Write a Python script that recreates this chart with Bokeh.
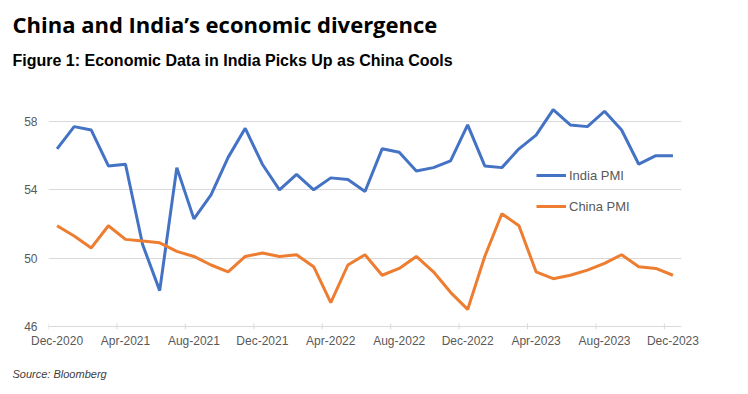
from bokeh.plotting import figure
from bokeh.models import (LinearAxis, FixedTicker, Range1d, Title, Legend, LegendItem)
from bokeh.embed import file_html
from bokeh.resources import INLINE

months = ["Dec-2020", "Jan-2021", "Feb-2021", "Mar-2021", "Apr-2021", "May-2021", "Jun-2021",
          "Jul-2021", "Aug-2021", "Sep-2021", "Oct-2021", "Nov-2021", "Dec-2021",
          "Jan-2022", "Feb-2022", "Mar-2022", "Apr-2022", "May-2022", "Jun-2022",
          "Jul-2022", "Aug-2022", "Sep-2022", "Oct-2022", "Nov-2022", "Dec-2022",
          "Jan-2023", "Feb-2023", "Mar-2023", "Apr-2023", "May-2023", "Jun-2023",
          "Jul-2023", "Aug-2023", "Sep-2023", "Oct-2023", "Nov-2023", "Dec-2023"]
india_pmi = [56.4, 57.7, 57.5, 55.4, 55.5, 50.8, 48.1, 55.3, 52.3, 53.7, 55.9, 57.6, 55.5,
             54.0, 54.9, 54.0, 54.7, 54.6, 53.9, 56.4, 56.2, 55.1, 55.3, 55.7, 57.8,
             55.4, 55.3, 56.4, 57.2, 58.7, 57.8, 57.7, 58.6, 57.5, 55.5, 56.0, 56.0]
china_pmi = [51.9, 51.3, 50.6, 51.9, 51.1, 51.0, 50.9, 50.4, 50.1, 49.6, 49.2, 50.1, 50.3,
             50.1, 50.2, 49.5, 47.4, 49.6, 50.2, 49.0, 49.4, 50.1, 49.2, 48.0, 47.0,
             50.1, 52.6, 51.9, 49.2, 48.8, 49.0, 49.3, 49.7, 50.2, 49.5, 49.4, 49.0]
y_ticks = [46, 50, 54, 58]
label_step = 4

idx = list(range(len(months)))
PPU = 17.083          # pixels per PMI point
TICK = 3 / PPU        # half tick length in data units
y_min = y_ticks[0]

p = figure(width=740, height=390, output_backend="svg", toolbar_location=None,
           x_axis_location=None, y_axis_location=None,
           x_range=Range1d(-0.5, len(months) - 0.5),
           y_range=Range1d(y_min - TICK, y_min + 230 / PPU),
           min_border_left=48, min_border_right=59, min_border_top=96, min_border_bottom=61)
p.outline_line_color = None
p.background_fill_color = "white"
p.border_fill_color = "white"

# y axis
yax = LinearAxis(ticker=FixedTicker(ticks=y_ticks))
yax.axis_line_color = None
yax.major_tick_line_color = None
yax.major_tick_in = 0
yax.major_tick_out = 0
yax.minor_tick_line_color = None
yax.major_label_text_font = "Liberation Sans"
yax.major_label_text_font_size = "12px"
yax.major_label_text_color = "#595959"
yax.major_label_standoff = 11
p.add_layout(yax, "left")

# x label axis (labels centred on the months)
lab_pos = list(range(0, len(months), label_step))
xl = LinearAxis(ticker=FixedTicker(ticks=lab_pos),
                major_label_overrides={i: months[i] for i in lab_pos})
xl.axis_line_color = None
xl.major_tick_line_color = None
xl.major_tick_in = 0
xl.major_tick_out = 0
xl.minor_tick_line_color = None
xl.major_label_text_font = "Liberation Sans"
xl.major_label_text_font_size = "12px"
xl.major_label_text_color = "#595959"
xl.major_label_standoff = 4
p.add_layout(xl, "below")

p.xgrid.visible = False
p.ygrid.ticker = FixedTicker(ticks=y_ticks)
p.ygrid.grid_line_color = "#d9d9d9"
p.ygrid.grid_line_width = 1

# tick marks between categories on the category axis line
tick_pos = [i - 0.5 for i in range(0, len(months), label_step)]
p.segment(x0=tick_pos, x1=tick_pos, y0=[y_min - TICK] * len(tick_pos),
          y1=[y_min + TICK] * len(tick_pos), line_color="#d9d9d9", line_width=1)

r1 = p.line(idx, india_pmi, line_color="#4472C4", line_width=3)
r2 = p.line(idx, china_pmi, line_color="#ED7D31", line_width=3)

legend = Legend(items=[LegendItem(label="India PMI", renderers=[r1]),
                       LegendItem(label="China PMI", renderers=[r2])],
                location=(488, 113))
legend.padding = 0
legend.margin = 0
legend.spacing = 11
legend.glyph_width = 30
legend.glyph_height = 20
legend.label_height = 20
legend.label_standoff = 3
legend.label_text_font = "Liberation Sans"
legend.label_text_font_size = "13px"
legend.label_text_color = "#595959"
legend.border_line_color = None
legend.background_fill_alpha = 0
p.add_layout(legend, "center")

# header: stacked from the plot area upwards
p.add_layout(Title(text="Figure 1: Economic Data in India Picks Up as China Cools\n",
                   text_font="Liberation Sans", text_font_style="bold", text_font_size="16px",
                   text_color="#000000", align="left", offset=-36, standoff=22), "above")
p.add_layout(Title(text="China and India\u2019s economic divergence",
                   text_font="Open Sans", text_font_style="bold", text_font_size="22px",
                   text_color="#000000", align="left", offset=-36, standoff=0), "above")

# footer
p.add_layout(Title(text="\nSource: Bloomberg",
                   text_font="Liberation Sans", text_font_style="italic", text_font_size="11px",
                   text_color="#404040", align="left", offset=-36, standoff=10,
                   vertical_align="top"), "below")

open("out.html", "w").write(file_html(p, INLINE))
